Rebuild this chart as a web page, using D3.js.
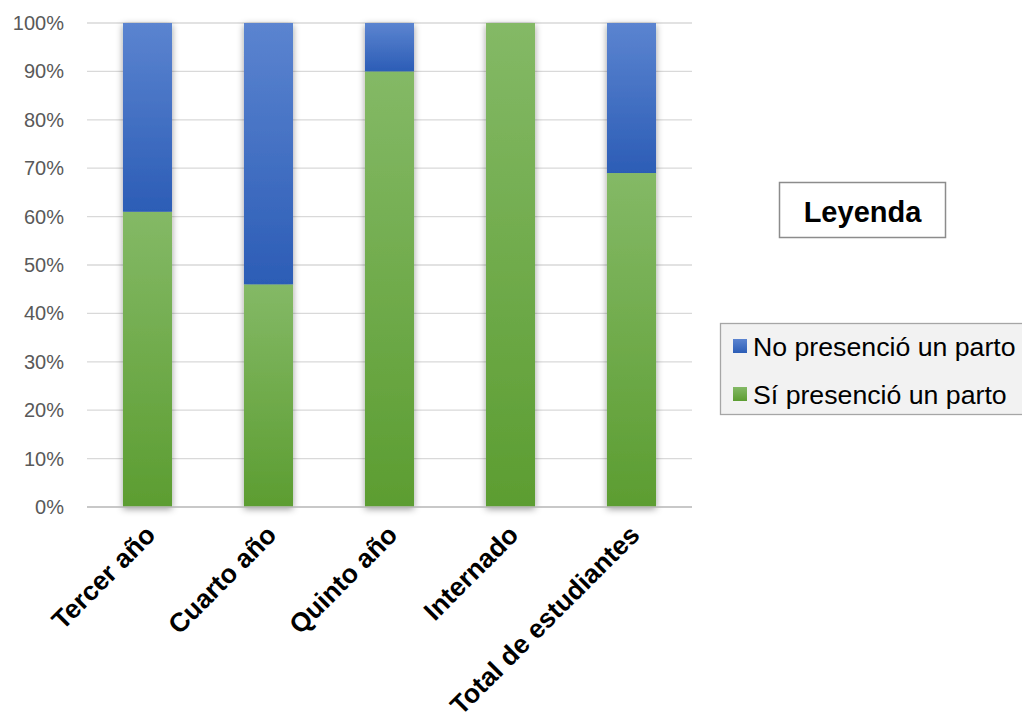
<!DOCTYPE html>
<html>
<head>
<meta charset="utf-8">
<script src="https://cdn.jsdelivr.net/npm/d3@7"></script>
<style>
  html, body { margin: 0; padding: 0; background: #ffffff; }
  svg { display: block; font-family: "Liberation Sans", Arial, sans-serif; }
</style>
</head>
<body>
<svg id="chart" width="1022" height="720"></svg>
<script>
// Categories and shares (percent) of students who did / did not witness a birth
const categories = ["Tercer año", "Cuarto año", "Quinto año", "Internado", "Total de estudiantes"];
const siPresencio = [61, 46, 90, 100, 69];
const noPresencio = [39, 54, 10, 0, 31];
const seriesNames = ["No presenció un parto", "Sí presenció un parto"];
const yTicks = [0, 10, 20, 30, 40, 50, 60, 70, 80, 90, 100];

const svg = d3.select("#chart");
const margin = { left: 87, right: 330, top: 23, bottom: 213 };
const width = 1022, height = 720;

const x = d3.scaleBand()
  .domain(categories)
  .range([margin.left, width - margin.right])
  .paddingInner(0.595)
  .paddingOuter(0.2975);

const y = d3.scaleLinear()
  .domain([0, 100])
  .range([height - margin.bottom, margin.top]);

const defs = svg.append("defs");

function gradient(id, top, bottom) {
  const g = defs.append("linearGradient")
    .attr("id", id).attr("x1", 0).attr("y1", 0).attr("x2", 0).attr("y2", 1);
  g.append("stop").attr("offset", "0%").attr("stop-color", top);
  g.append("stop").attr("offset", "100%").attr("stop-color", bottom);
}
gradient("gradGreen", "#84b966", "#5c9d31");
gradient("gradBlue", "#5b84d0", "#2c5db6");

const shadow = defs.append("filter").attr("id", "barShadow")
  .attr("x", "-40%").attr("y", "-10%").attr("width", "180%").attr("height", "120%");
shadow.append("feDropShadow")
  .attr("dx", 0).attr("dy", 2).attr("stdDeviation", 3.5)
  .attr("flood-color", "#000").attr("flood-opacity", 0.4);

// Gridlines
svg.append("g")
  .selectAll("line")
  .data(yTicks)
  .join("line")
  .attr("x1", margin.left).attr("x2", width - margin.right)
  .attr("y1", d => y(d)).attr("y2", d => y(d))
  .attr("stroke", "#d9d9d9").attr("stroke-width", 1.3);

// Y axis tick labels
const yAxis = d3.axisLeft(y)
  .tickValues(yTicks)
  .tickFormat(d => d + "%")
  .tickSize(0)
  .tickPadding(23);
const yg = svg.append("g")
  .attr("transform", `translate(${margin.left},0)`)
  .call(yAxis);
yg.select(".domain").remove();
yg.selectAll("text")
  .attr("fill", "#595959")
  .style("font-size", "20px")
  .style("font-family", "'Liberation Sans', Arial, sans-serif");

// Stacked bars
const rows = categories.map((c, i) => ({ cat: c, si: siPresencio[i], no: noPresencio[i] }));
const stack = d3.stack().keys(["si", "no"]);
const stacked = stack(rows);
const fills = { si: "url(#gradGreen)", no: "url(#gradBlue)" };

const barsG = svg.append("g").attr("filter", "url(#barShadow)");
stacked.forEach(layer => {
  barsG.append("g")
    .selectAll("rect")
    .data(layer.filter(d => d[1] - d[0] > 0))
    .join("rect")
    .attr("x", d => x(d.data.cat))
    .attr("width", x.bandwidth())
    .attr("y", d => y(d[1]))
    .attr("height", d => y(d[0]) - y(d[1]))
    .attr("fill", fills[layer.key]);
});

// Baseline
svg.append("line")
  .attr("x1", margin.left).attr("x2", width - margin.right)
  .attr("y1", y(0)).attr("y2", y(0))
  .attr("stroke", "#bfbfbf").attr("stroke-width", 1.3);

// Category labels, rotated
const xAxis = d3.axisBottom(x).tickSize(0).tickPadding(0);
const xg = svg.append("g")
  .attr("transform", `translate(0,${y(0)})`)
  .call(xAxis);
xg.select(".domain").remove();
xg.selectAll("text")
  .attr("transform", "translate(3,23) rotate(-45)")
  .attr("text-anchor", "end")
  .attr("dy", "0.35em")
  .attr("y", 0)
  .attr("fill", "#000")
  .style("font-size", "26.5px")
  .style("font-weight", "bold")
  .style("font-family", "'Liberation Sans', Arial, sans-serif");

// Legend title box
const titleBox = svg.append("g");
titleBox.append("rect")
  .attr("x", 779.5).attr("y", 182.5).attr("width", 166).attr("height", 55)
  .attr("fill", "#ffffff").attr("stroke", "#8c8c8c").attr("stroke-width", 1.5);
titleBox.append("text")
  .attr("x", 862.5).attr("y", 222)
  .attr("text-anchor", "middle")
  .style("font-size", "29px").style("font-weight", "bold")
  .attr("fill", "#000")
  .text("Leyenda");

// Series legend
const legend = svg.append("g");
legend.append("rect")
  .attr("x", 720.5).attr("y", 323.5).attr("width", 310).attr("height", 91)
  .attr("fill", "#f2f2f2").attr("stroke", "#a6a6a6").attr("stroke-width", 1.3);
const legendFills = ["url(#gradBlue)", "url(#gradGreen)"];
const items = legend.selectAll("g.item")
  .data(seriesNames)
  .join("g")
  .attr("class", "item")
  .attr("transform", (d, i) => `translate(733,${339 + i * 48})`);
items.append("rect")
  .attr("width", 14).attr("height", 14)
  .attr("fill", (d, i) => legendFills[i]);
items.append("text")
  .attr("x", 20).attr("y", 17)
  .style("font-size", "26.7px")
  .attr("fill", "#000")
  .text(d => d);
</script>
</body>
</html>
